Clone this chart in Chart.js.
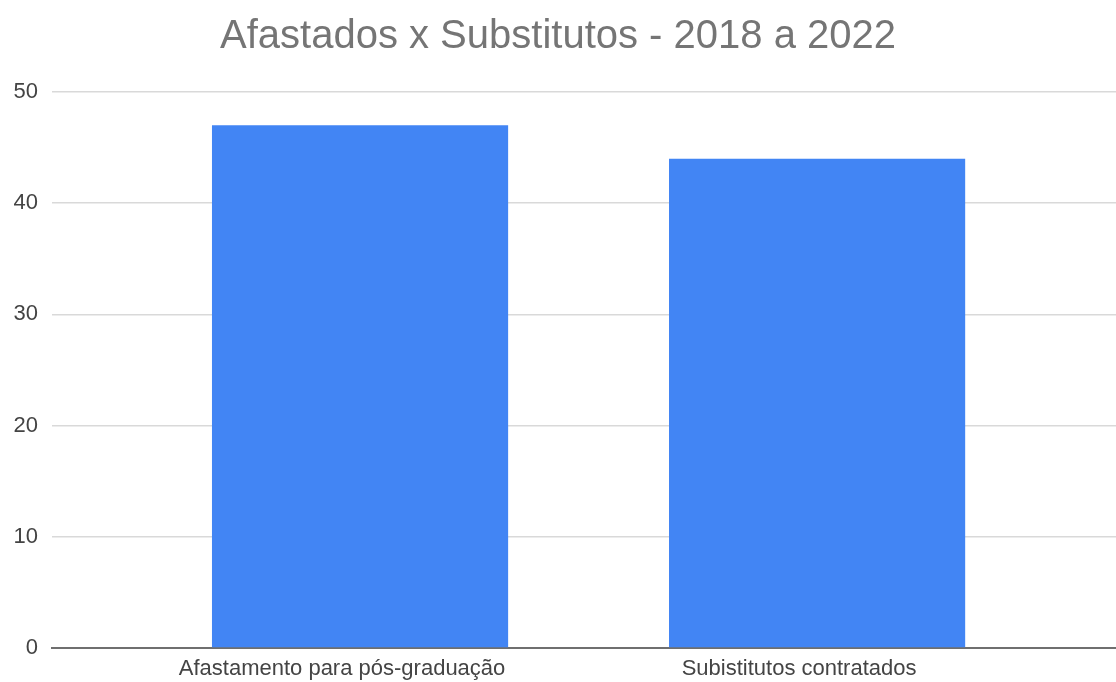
<!DOCTYPE html>
<html>
<head>
<meta charset="utf-8">
<script src="https://cdn.jsdelivr.net/npm/chart.js@4"></script>
<style>
  html, body { margin: 0; padding: 0; background: #fff; }
  #wrap { width: 1116px; height: 682px; position: relative; }
</style>
</head>
<body>
<div id="wrap"><canvas id="chart"></canvas></div>
<script>
// --- data ---
const categories = ['Afastamento para pós-graduação', 'Subistitutos contratados'];
const values = [47, 44];
const yTicks = [0, 10, 20, 30, 40, 50];

const points = categories.map((c, i) => ({ x: i, y: values[i] }));

new Chart(document.getElementById('chart'), {
    type: 'bar',
    data: {
        datasets: [{
            label: 'Afastados x Substitutos',
            data: points,
            backgroundColor: '#4285F4',
            borderWidth: 0,
            categoryPercentage: 1,
            barPercentage: 0.648
        }]
    },
    options: {
        responsive: true,
        maintainAspectRatio: false,
        animation: false,
        layout: { padding: { left: 0, right: 0, top: 0, bottom: 0 } },
        plugins: {
            legend: { display: false },
            tooltip: { enabled: false },
            title: {
                display: true,
                text: 'Afastados x Substitutos - 2018 a 2022',
                color: '#757575',
                font: { family: 'Liberation Sans, Arial, sans-serif', size: 40, weight: 'normal' },
                padding: { top: 13, bottom: 31 }
            }
        },
        scales: {
            x: {
                type: 'linear',
                offset: false,
                min: -0.674,
                max: 1.654,
                grid: { display: false },
                border: { display: true, color: '#6f6f6f', width: 2 },
                afterBuildTicks: s => { s.ticks = categories.map((c, i) => ({ value: i })); },
                afterFit: s => { s.height = 34; },
                ticks: {
                    color: '#444',
                    padding: 0,
                    labelOffset: -18,
                    maxRotation: 0,
                    autoSkip: false,
                    font: { family: 'Liberation Sans, Arial, sans-serif', size: 22 },
                    callback: v => categories[v]
                }
            },
            y: {
                min: 0,
                max: 50,
                afterBuildTicks: s => { s.ticks = yTicks.map(v => ({ value: v })); },
                afterFit: s => { s.width = 52; },
                border: { display: false },
                grid: {
                    drawTicks: false,
                    color: ctx => ctx.tick && ctx.tick.value === 0 ? 'rgba(0,0,0,0)' : '#d9d9d9',
                    lineWidth: 1.5
                },
                ticks: {
                    color: '#444',
                    padding: 14,
                    font: { family: 'Liberation Sans, Arial, sans-serif', size: 22 }
                }
            }
        }
    }
});
</script>
</body>
</html>
